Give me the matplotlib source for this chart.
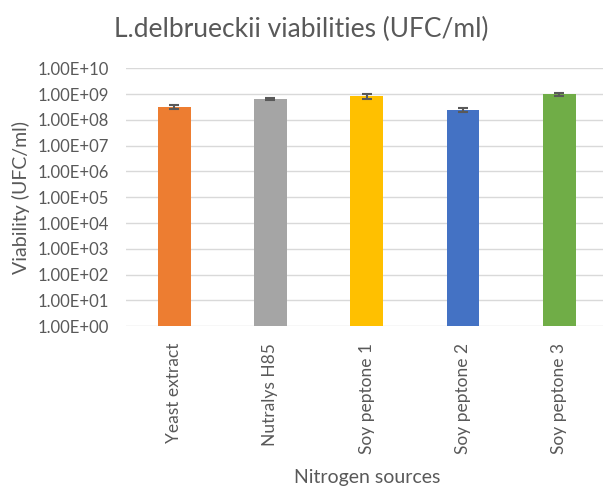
import math
import matplotlib.pyplot as plt
from matplotlib.ticker import FixedLocator, FuncFormatter

sources = ['Yeast extract', 'Nutralys H85', 'Soy peptone 1', 'Soy peptone 2', 'Soy peptone 3']
viability = [3.2e8, 6.6e8, 8.3e8, 2.5e8, 9.8e8]
errors = [6e7, 6e7, 2e8, 5e7, 1.2e8]
colors = ['#ED7D31', '#A5A5A5', '#FFC000', '#4472C4', '#70AD47']

plt.rcParams['font.family'] = ['Lato', 'DejaVu Sans']
txt = '#595959'

fig = plt.figure(figsize=(6.03, 4.86), dpi=100)
ax = fig.add_axes([126/603, 1 - 326.3/486, 481.5/603, (326.3 - 68.3)/486])

x = range(len(sources))
ax.bar(x, viability, width=0.34, color=colors, zorder=3)
ax.errorbar(x, viability, yerr=errors, fmt='none', ecolor='#595959',
            elinewidth=1.5, capsize=3.6, capthick=1.5, zorder=4)

ax.set_yscale('log')
ax.set_ylim(1, 1e10)
ax.set_xlim(-0.5, len(sources) - 0.5)
ax.yaxis.set_major_locator(FixedLocator([10.0**k for k in range(11)]))
ax.yaxis.set_minor_locator(FixedLocator([]))
ax.yaxis.set_major_formatter(FuncFormatter(lambda v, p: '1.00E+%02d' % round(math.log10(v))))
ax.grid(axis='y', color='#D9D9D9', linewidth=1, zorder=0)
for s in ax.spines.values():
    s.set_visible(False)
ax.tick_params(length=0, colors=txt)
ax.tick_params(axis='y', pad=12, labelsize=12)
ax.tick_params(axis='x', pad=12, labelsize=12.5)
ax.set_xticks(list(x))
ax.set_xticklabels(sources, rotation=90)

ax.set_ylabel('Viability (UFC/ml)', color=txt, fontsize=14, labelpad=6)
ax.set_xlabel('Nitrogen sources', color=txt, fontsize=14, labelpad=11)
fig.text(0.5, 1 - 29/486, 'L.delbrueckii viabilities (UFC/ml)', color=txt,
         fontsize=19, ha='center', va='center')

fig.savefig('out.png', dpi=100)
